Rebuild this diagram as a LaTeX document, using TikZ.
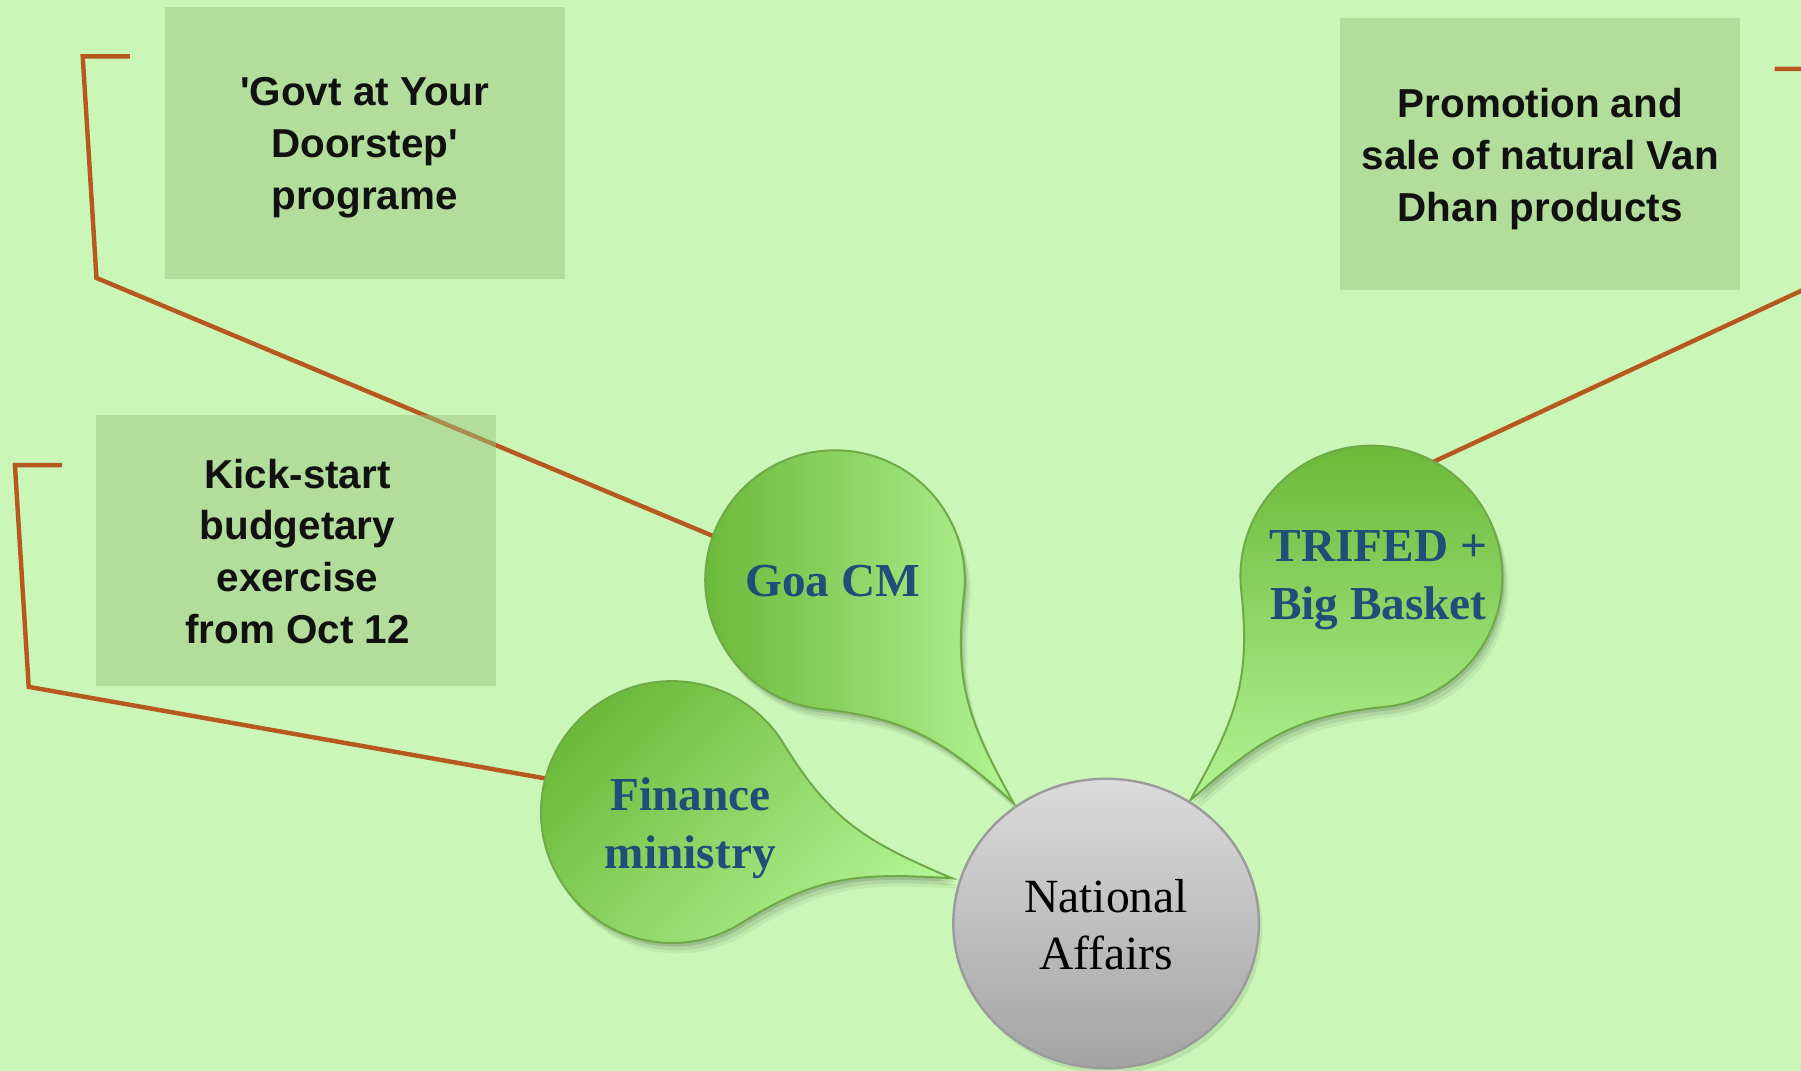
\documentclass[tikz,border=0pt]{standalone}
\usepackage{fontspec}
\setmainfont{Liberation Serif}
\newfontfamily\boxfont{Liberation Sans}
\usetikzlibrary{calc}
\definecolor{bg}{RGB}{202,247,183}
\definecolor{boxfill}{RGB}{156,197,127}
\definecolor{conn}{RGB}{183,89,31}
\definecolor{gdark}{RGB}{106,184,57}
\definecolor{glight}{RGB}{178,244,148}
\definecolor{gline}{RGB}{112,170,72}
\definecolor{btext}{RGB}{31,78,121}
\definecolor{ctop}{RGB}{219,219,219}
\definecolor{cbot}{RGB}{163,163,163}
\definecolor{cline}{RGB}{155,155,155}
\definecolor{tblack}{RGB}{17,17,17}
% teardrop: #1 centre name, #2 tip angle, #3 radius, #4 options
\newcommand\tdrop[4]{%
 \path[#4] ($(#1)+({#2+45}:#3)$)
 .. controls ($(#1)+({#2+9.93}:{1.218*#3})$) and ($(#1)+({#2+4.57}:{1.505*#3})$)
 .. ($(#1)+(#2:{2.2*#3})$)
 .. controls ($(#1)+({#2-4.57}:{1.505*#3})$) and ($(#1)+({#2-9.93}:{1.218*#3})$)
 .. ($(#1)+({#2-45}:#3)$)
 arc[start angle={#2-45}, end angle={#2-315}, radius=#3] -- cycle;}
\newcommand\tdropshadow[3]{%
 \begin{scope}[transform canvas={shift={(0.5pt,-0.9pt)}}]
  \tdrop{#1}{#2}{#3}{fill=black, fill opacity=0.11}
 \end{scope}
 \begin{scope}[transform canvas={shift={(1.0pt,-1.8pt)}}]
  \tdrop{#1}{#2}{#3}{fill=black, fill opacity=0.08}
 \end{scope}
 \begin{scope}[transform canvas={shift={(1.5pt,-2.6pt)}}]
  \tdrop{#1}{#2}{#3}{fill=black, fill opacity=0.05}
 \end{scope}}
\begin{document}
\begin{tikzpicture}[x=0.01cm,y=0.01cm,
  connline/.style={draw=conn, line width=1.1pt},
  infobox/.style={fill=boxfill, fill opacity=0.5, inner sep=0pt,
    minimum width=3.48cm, minimum height=2.36cm},
  boxtext/.style={inner sep=0pt,
    font=\boxfont\bfseries\fontsize{10}{12.8}\selectfont, text=tblack, align=center},
  bubtext/.style={font=\bfseries\fontsize{11.7}{14.3}\selectfont, text=btext, align=center, inner sep=0pt},
  bubble/.style={draw=gline, line width=0.5pt},
]
\useasboundingbox (0,0) rectangle (1568,-932);
\fill[bg] (0,0) rectangle (1568,-932);

% named points
\coordinate (goa) at (727,-505);
\coordinate (fin) at (585,-707);
\coordinate (tri) at (1194,-502);
\coordinate (natc) at (963,-804);

\coordinate (g1) at (113,-49);
\coordinate (g2) at (72,-49);
\coordinate (g3) at (84,-242);
\coordinate (goaE) at (624,-468);

\coordinate (k1) at (54,-405);
\coordinate (k2) at (13,-405);
\coordinate (k3) at (25,-598);
\coordinate (finE) at (482,-679);

\coordinate (p1) at (1545,-60);
\coordinate (p2) at (1602,-60);
\coordinate (p3) at (1590,-243);
\coordinate (triE) at (1246,-403);

% connectors
\draw[connline] (g1) -- (g2) -- (g3) -- (goaE);
\draw[connline] (k1) -- (k2) -- (k3) -- (finE);
\begin{scope}
 \clip (0,0) rectangle (1568,-932);
 \draw[connline] (p1) -- (p2) -- (p3) -- (triE);
\end{scope}

% information boxes
\node[infobox] (govtbox) at (317.5,-124.5) {};
\node[infobox] (kickbox) at (258,-479) {};
\node[infobox] (promobox) at (1341,-134) {};
\node[boxtext] (govt) at (317.5,-128.5) {'Govt at Your\\Doorstep'\\programe};
\node[boxtext] (kick) at (259,-480) {Kick-start\\budgetary\\exercise\\from Oct 12};
\node[boxtext] (promo) at (1341,-138.5) {Promotion and\\sale of natural Van\\Dhan products};

% teardrop bubbles
\tdropshadow{goa}{-51.3}{113}
\tdrop{goa}{-51.3}{113}{bubble, left color=gdark, right color=glight}
\tdropshadow{fin}{-13.3}{114}
\tdrop{fin}{-13.3}{114}{bubble, top color=gdark, bottom color=glight, shading angle=45}
\tdropshadow{tri}{-129}{114}
\tdrop{tri}{-129}{114}{bubble, top color=gdark, bottom color=glight}

\node[bubtext] (goat) at (725,-506) {Goa CM};
\node[bubtext] (fint) at (601,-721) {Finance\\ministry};
\node[bubtext] (trit) at (1200,-505) {TRIFED +\\Big Basket};

% central circle
\begin{scope}[transform canvas={shift={(0.8pt,-1.4pt)}}]
 \fill[black, fill opacity=0.08] (natc) ellipse [x radius=133, y radius=126];
\end{scope}
\path[top color=ctop, bottom color=cbot, draw=cline, line width=0.6pt] (natc) ellipse [x radius=133, y radius=126];
\node[font=\fontsize{11.8}{14.3}\selectfont, text=black, align=center, inner sep=0pt] (nat) at (963,-805) {National\\Affairs};
\end{tikzpicture}
\end{document}
